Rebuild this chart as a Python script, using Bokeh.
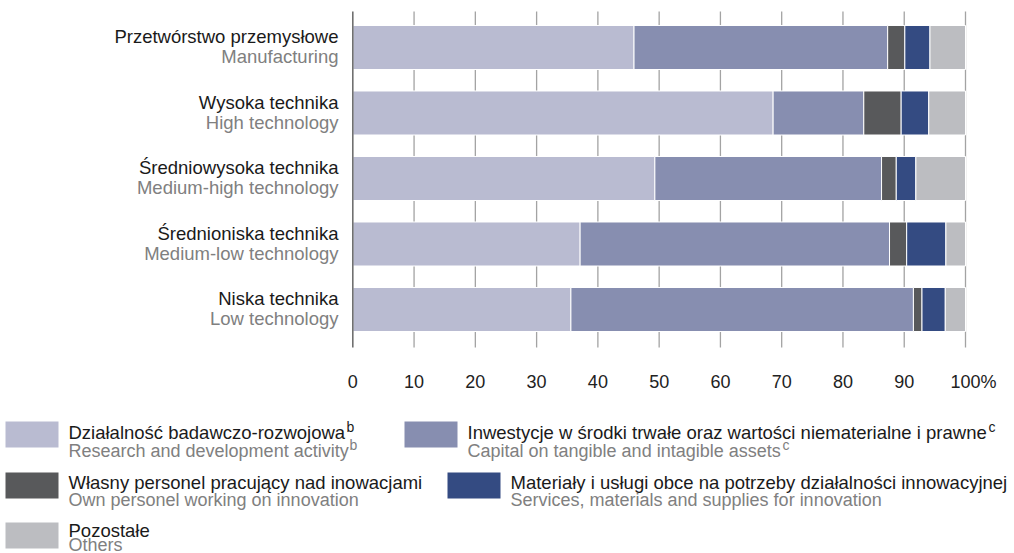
from bokeh.plotting import figure
from bokeh.models import ColumnDataSource, Range1d
from bokeh.embed import file_html
from bokeh.resources import INLINE
from bokeh.core.properties import value

# ---------------- data ----------------
categories_pl = ["Przetwórstwo przemysłowe", "Wysoka technika", "Średniowysoka technika",
                 "Średnioniska technika", "Niska technika"]
categories_en = ["Manufacturing", "High technology", "Medium-high technology",
                 "Medium-low technology", "Low technology"]
rd = [45.9, 68.6, 49.3, 37.1, 35.6]
capital = [41.4, 14.8, 37.0, 50.5, 55.9]
personnel = [2.8, 6.1, 2.4, 2.8, 1.4]
services = [4.1, 4.5, 3.2, 6.4, 3.8]
others = [5.8, 6.0, 8.1, 3.2, 3.3]

tick_values = [0, 10, 20, 30, 40, 50, 60, 70, 80, 90, 100]
tick_labels = ["0", "10", "20", "30", "40", "50", "60", "70", "80", "90", "100%"]

series_keys = ["rd", "capital", "personnel", "services", "others"]
series_pl = ["Działalność badawczo-rozwojowa",
             "Inwestycje w środki trwałe oraz wartości niematerialne i prawne",
             "Własny personel pracujący nad inowacjami",
             "Materiały i usługi obce na potrzeby działalności innowacyjnej",
             "Pozostałe"]
series_en = ["Research and development activity",
             "Capital on tangible and intagible assets",
             "Own personel working on innovation",
             "Services, materials and supplies for innovation",
             "Others"]
series_sup = ["b", "c", "", "", ""]
colors = ["#B9BBD1", "#878EB0", "#58595B", "#344B82", "#BCBDC1"]

# ---------------- layout ----------------
W, H = 1014, 553
X0 = 352.3      # px of 0 %
PXU = 6.127     # px per 1 %
ROW = 65.5      # px between bar centres
YC0 = 47.0      # px of first bar centre
n = len(categories_pl)
ytop = n - 1

def fx(X):  # picture px -> x data
    return (X - X0) / PXU

def fy(Y):  # picture px -> y data
    return ytop - (Y - YC0) / ROW

FONT = value("Liberation Sans")
FS = "18.5px"

p = figure(width=W, height=H, output_backend="svg", toolbar_location=None,
           x_range=Range1d(fx(0), fx(W)), y_range=Range1d(fy(H), fy(0)),
           min_border=0, outline_line_color=None, background_fill_color="white")
p.axis.visible = False
p.grid.visible = False

ys = [ytop - i for i in range(n)]

# grid lines (behind bars)
p.segment(x0=tick_values[1:], x1=tick_values[1:], y0=fy(11), y1=fy(347),
          line_color="#A3A3A3", line_width=1.3)

src = ColumnDataSource(dict(y=ys, rd=rd, capital=capital, personnel=personnel,
                            services=services, others=others))
p.hbar_stack(series_keys, y="y", height=0.672, source=src,
             fill_color=colors, line_color="white", line_width=1)

# zero line
p.segment(x0=[0], x1=[0], y0=[fy(11)], y1=[fy(347)], line_color="#707070", line_width=1.6)

# tick labels
tsrc = ColumnDataSource(dict(x=tick_values, text=tick_labels,
                             off=[8 if "%" in t else 0 for t in tick_labels]))
p.text(x="x", y=fy(381), text="text", x_offset="off", source=tsrc, text_font=FONT,
       text_font_size="18px", text_color="#222222", text_align="center",
       text_baseline="middle")

# category labels
p.text(x=[fx(338)] * n, y=ys, text=categories_pl, y_offset=-11, text_font=FONT,
       text_font_size=FS, text_color="#1A1A1A", text_align="right",
       text_baseline="middle")
p.text(x=[fx(338)] * n, y=ys, text=categories_en, y_offset=9, text_font=FONT,
       text_font_size=FS, text_color="#808080", text_align="right",
       text_baseline="middle")

# legend
sw_left = [5, 404, 5, 447, 5]
sw_top = [421, 421, 472, 472, 522]
pl_dy = [11, 11, 10, 10, 8]
en_dy = [29, 29, 27, 27, 22]
SW_W, SW_H = 53, 26
txt_left = [l + 63 for l in sw_left]
p.quad(left=[fx(l) for l in sw_left], right=[fx(l + SW_W) for l in sw_left],
       top=[fy(t) for t in sw_top], bottom=[fy(t + SW_H) for t in sw_top],
       fill_color=colors, line_color=None)
p.text(x=[fx(l) for l in txt_left], y=[fy(t + d) for t, d in zip(sw_top, pl_dy)],
       text=series_pl, text_font=FONT, text_font_size=FS, text_color="#1A1A1A",
       text_align="left", text_baseline="middle")
p.text(x=[fx(l) for l in txt_left], y=[fy(t + d) for t, d in zip(sw_top, en_dy)],
       text=series_en, text_font=FONT, text_font_size="18px", text_color="#808080",
       text_align="left", text_baseline="middle")

# footnote superscripts
sup_x_pl = [346, 988]
sup_x_en = [349, 782]
p.text(x=[fx(v) for v in sup_x_pl], y=[fy(sw_top[0] + 5)] * 2, text=series_sup[:2],
       text_font=FONT, text_font_size="14px", text_color="#1A1A1A",
       text_align="left", text_baseline="middle")
p.text(x=[fx(v) for v in sup_x_en], y=[fy(sw_top[0] + 23)] * 2, text=series_sup[:2],
       text_font=FONT, text_font_size="14px", text_color="#808080",
       text_align="left", text_baseline="middle")

open("out.html", "w").write(file_html(p, INLINE))
